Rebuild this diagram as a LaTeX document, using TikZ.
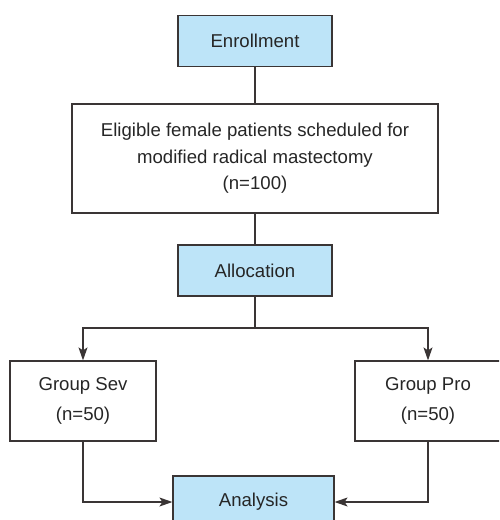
\documentclass[tikz,border=0pt]{standalone}
\usepackage{fontspec}
\setmainfont{Liberation Sans}
\usetikzlibrary{arrows.meta}
\definecolor{boxblue}{HTML}{BDE4F8}
\definecolor{linegray}{HTML}{3A3535}
\begin{document}
\begin{tikzpicture}[
    x=1pt, y=-1pt,
    every node/.style={
        rectangle,
        draw=linegray,
        line width=1.2pt,
        align=center,
        inner sep=0pt,
        text=black!85,
        font=\fontsize{18.6}{26.5}\selectfont
    },
    stage/.style={fill=boxblue, minimum width=154pt, minimum height=51pt},
    group/.style={minimum width=146pt, minimum height=80pt}
]
\useasboundingbox (0,0) rectangle (499,520);
\clip (0,0) rectangle (499,520);

% nodes
\node[stage] (enroll) at (255,41) {Enrollment};
\node[minimum width=366pt, minimum height=109pt] (elig) at (255,158.5)
    {Eligible female patients scheduled for\\modified radical mastectomy\\(n=100)};
\node[stage] (alloc) at (255,270.5) {Allocation};
\coordinate (split) at (255,328);
\node[group] (sev) at (83,401) {Group Sev\\[4pt](n=50)};
\node[group] (pro) at (428,401) {Group Pro\\[4pt](n=50)};
\node[stage, minimum width=161pt, minimum height=52pt] (analysis) at (253.5,502) {Analysis};

% edges
\draw[linegray, line width=1.2pt] (enroll) -- (elig);
\draw[linegray, line width=1.2pt] (elig) -- (alloc);
\draw[linegray, line width=1.2pt] (alloc) -- (split);

\draw[->, linegray, line width=1.2pt, >={Stealth[length=13pt,width=9pt,inset=3pt]}] (split) -| (sev);
\draw[->, linegray, line width=1.2pt, >={Stealth[length=13pt,width=9pt,inset=3pt]}] (split) -| (pro);
\draw[->, linegray, line width=1.2pt, >={Stealth[length=13pt,width=9pt,inset=3pt]}] (sev) |- (analysis);
\draw[->, linegray, line width=1.2pt, >={Stealth[length=13pt,width=9pt,inset=3pt]}] (pro) |- (analysis);

\end{tikzpicture}
\end{document}
